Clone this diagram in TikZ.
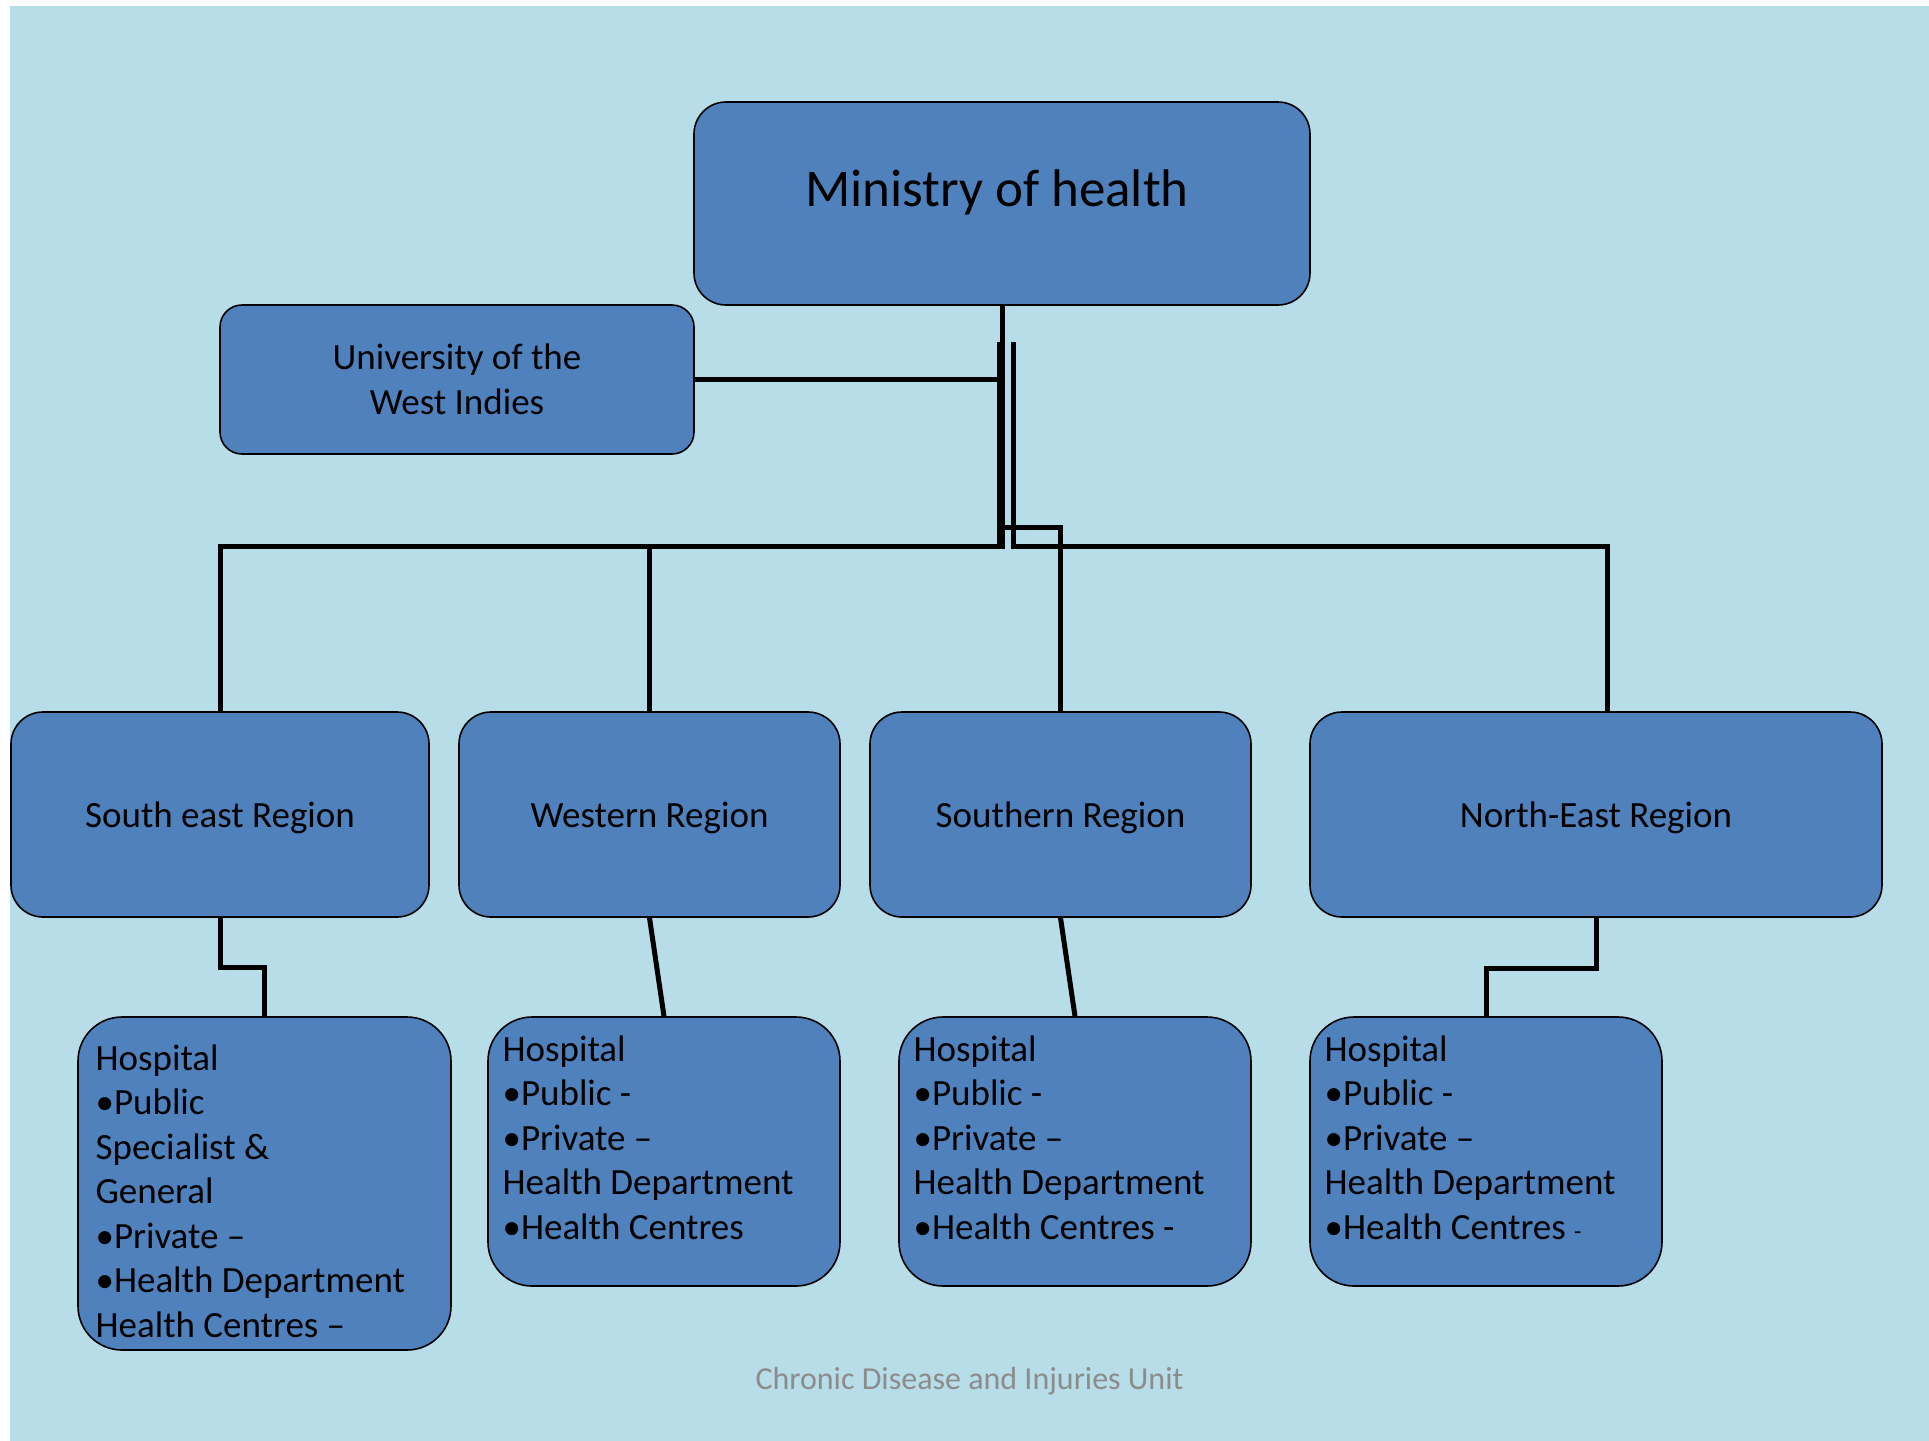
\documentclass[tikz,border=0pt]{standalone}
\usepackage{fontspec}
\setmainfont{Carlito}
\usepackage{tikz}
\usetikzlibrary{arrows,positioning}
\usetikzlibrary{calc}
\definecolor{bgblue}{HTML}{B7DDE8}
\definecolor{boxblue}{HTML}{4F81BD}
\definecolor{capgray}{HTML}{8C8C8C}
\tikzstyle{conn}=[line width=2.5pt]
\tikzset{
  orgbox/.style={rectangle,draw=black,line width=0.8pt,fill=boxblue,
    rounded corners=#1,inner sep=0pt},
  orgbox/.default=16pt,
}
\begin{document}
\begin{tikzpicture}[x=0.5pt,y=-0.5pt,
regtext/.style={font=\fontsize{18.5}{22.5}\selectfont,align=center},
region/.style={orgbox,minimum height=102.5pt,regtext,text height=16.5pt},
leaftext/.style={font=\fontsize{18.5}{22.25}\selectfont,align=left,
  anchor=base west,inner sep=0pt},
]
\useasboundingbox (0,0) rectangle (1929,1441);
\fill[bgblue] (10,6) rectangle (1929,1441);
% top level
\node[orgbox,minimum width=308pt,minimum height=101.5pt] (mini) at (1002,203.5) {};
\node[font=\fontsize{26.5}{32}\selectfont,anchor=base] (minitxt) at (997,206) {Ministry of health};
\node[orgbox=11pt,minimum width=237pt,minimum height=74.5pt,regtext] (uwi) at (457,379.5) {University of the\\West Indies};
% regions
\node[region,minimum width=209pt] (rse) at (220,814.5) {South east Region};
\node[region,minimum width=190.5pt] (rw) at (649.5,814.5) {Western Region};
\node[region,minimum width=190.5pt] (rs) at (1060.5,814.5) {Southern Region};
\node[region,minimum width=286pt] (rne) at (1596,814.5) {North-East Region};
% services (text base = last line)
\node[orgbox=22pt,minimum width=186.5pt,minimum height=166.5pt] (lse) at (264.5,1183.5) {};
\node[orgbox=22pt,minimum width=176pt,minimum height=134.5pt] (lw) at (664,1151.5) {};
\node[orgbox=22pt,minimum width=176pt,minimum height=134.5pt] (ls) at (1075,1151.5) {};
\node[orgbox=22pt,minimum width=176pt,minimum height=134.5pt] (lne) at (1486,1151.5) {};
\node[leaftext] (tse) at ($(lse.north west)+(18,321)$) {Hospital\\•Public\\Specialist \&\\General\\•Private –\\•Health Department\\Health Centres –};
\node[leaftext] (tw) at ($(lw.north west)+(15,223)$) {Hospital\\•Public -\\•Private –\\Health Department\\•Health Centres};
\node[leaftext] (ts) at ($(ls.north west)+(15,223)$) {Hospital\\•Public -\\•Private –\\Health Department\\•Health Centres -};
\node[leaftext] (tne) at ($(lne.north west)+(15,223)$) {Hospital\\•Public -\\•Private –\\Health Department\\•Health Centres {\fontsize{12}{12}\selectfont -}};
% connectors
\coordinate (bus) at (0,546);
\coordinate (wtop) at (999,342);
\coordinate (netop) at (1013,342);
\coordinate (sjoin) at (1004,527);
\coordinate (neend) at ($(rne.north)+(11,0)$);
\draw[conn] (mini.south) -- (mini.south |- bus) -| (rse.north);
\draw[conn] (uwi.east) -- (uwi.east -| mini.south);
\draw[conn] (wtop) -- (wtop |- bus) -| (rw.north);
\draw[conn] (sjoin) -| (rs.north);
\draw[conn] (netop) -- (netop |- bus) -| (neend);
\draw[conn] (rse.south) -- ++(0,50) -| (lse.north);
\draw[conn] (rw.south) -- (lw.north);
\draw[conn] (rs.south) -- (ls.north);
\draw[conn] (rne.south) -- ++(0,51) -| (lne.north);
\node[font=\fontsize{16}{19}\selectfont,text=capgray,anchor=base] (cap) at (969.5,1389) {Chronic Disease and Injuries Unit};
\end{tikzpicture}
\end{document}
